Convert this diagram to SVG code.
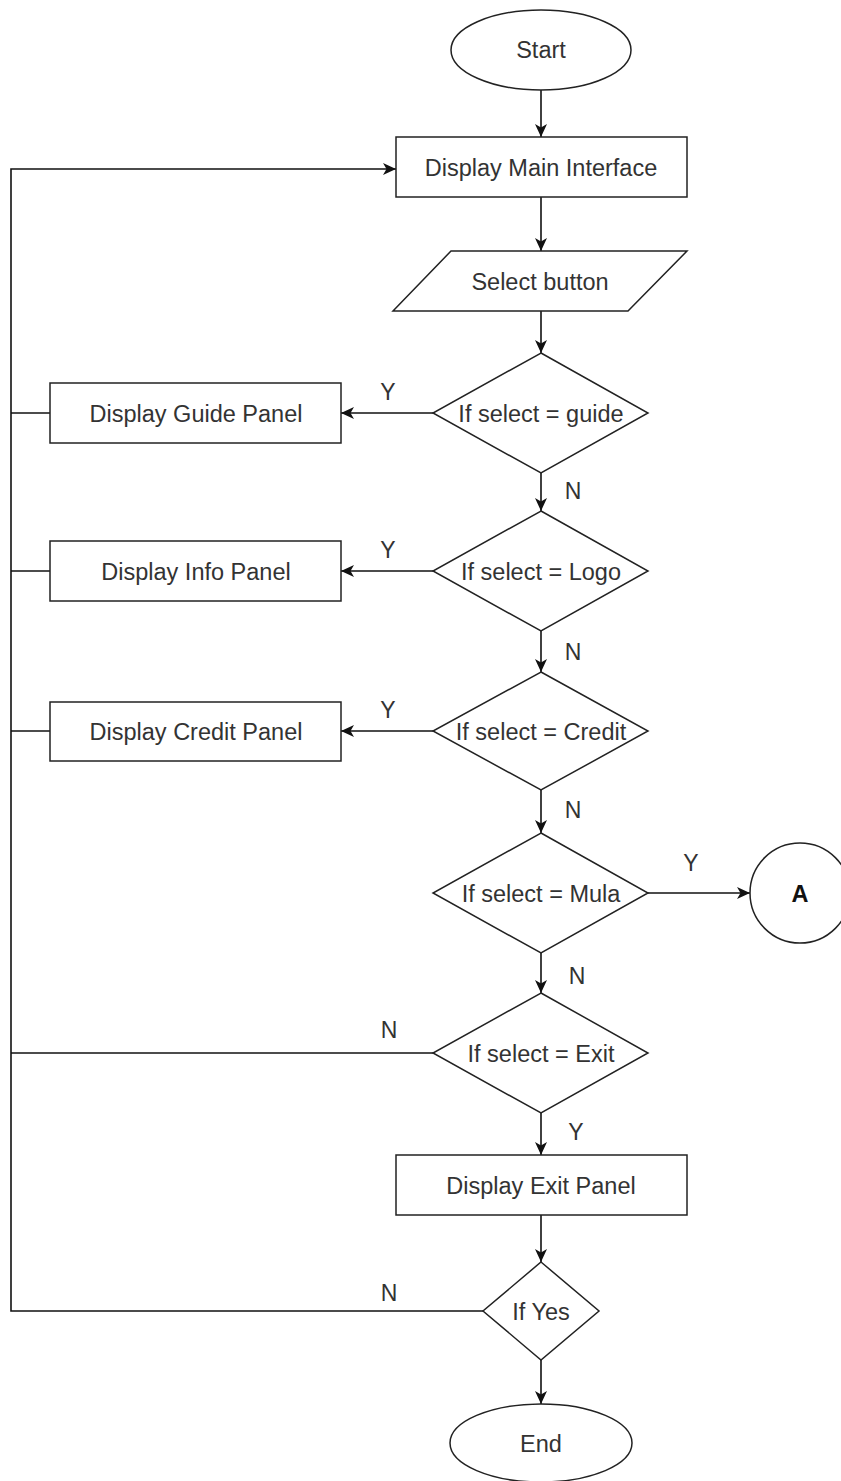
<svg xmlns="http://www.w3.org/2000/svg" width="841" height="1481" viewBox="0 0 841 1481">
  <defs>
    <marker id="arrow" viewBox="0 0 14 14" refX="13" refY="7" markerWidth="14" markerHeight="14" markerUnits="userSpaceOnUse" orient="auto">
      <path d="M0,1 L13,7 L0,13 L3.5,7 z" fill="#111"/>
    </marker>
    <style>
      .shape { fill: #fff; stroke: #222; stroke-width: 1.5; }
      .label { font-family: "Liberation Sans", Arial, sans-serif; font-size: 23.5px; fill: #333; text-anchor: middle; dominant-baseline: central; }
      .edge { fill: none; stroke: #111; stroke-width: 1.6; }
      .edge-arrow { fill: none; stroke: #111; stroke-width: 1.6; marker-end: url(#arrow); }
      .branch { font-family: "Liberation Sans", Arial, sans-serif; font-size: 23px; fill: #333; text-anchor: middle; }
    </style>
  </defs>
  <rect width="841" height="1481" fill="#fff"/>

  <!-- connectors -->
  <g id="connectors">
    <path class="edge-arrow" d="M541,90 V137"/>
    <path class="edge-arrow" d="M541,197 V251"/>
    <path class="edge-arrow" d="M541,311 V353"/>
    <path class="edge-arrow" d="M433,413 H341"/>
    <path class="edge-arrow" d="M541,473 V511"/>
    <path class="edge-arrow" d="M433,571 H341"/>
    <path class="edge-arrow" d="M541,631 V672"/>
    <path class="edge-arrow" d="M433,731 H341"/>
    <path class="edge-arrow" d="M541,790 V833"/>
    <path class="edge-arrow" d="M648,893 H750"/>
    <path class="edge-arrow" d="M541,953 V993"/>
    <path class="edge-arrow" d="M541,1113 V1155"/>
    <path class="edge-arrow" d="M541,1215 V1262"/>
    <path class="edge-arrow" d="M541,1360 V1404"/>
    <!-- loop back to the main interface -->
    <path class="edge-arrow" d="M483,1311 H11 V169 H396"/>
    <path class="edge" d="M50,413 H11"/>
    <path class="edge" d="M50,571 H11"/>
    <path class="edge" d="M50,731 H11"/>
    <path class="edge" d="M433,1053 H11"/>

    <text class="branch" x="388" y="400">Y</text>
    <text class="branch" x="573" y="499">N</text>
    <text class="branch" x="388" y="558">Y</text>
    <text class="branch" x="573" y="660">N</text>
    <text class="branch" x="388" y="718">Y</text>
    <text class="branch" x="573" y="818">N</text>
    <text class="branch" x="691" y="871">Y</text>
    <text class="branch" x="577" y="984">N</text>
    <text class="branch" x="389" y="1038">N</text>
    <text class="branch" x="576" y="1140">Y</text>
    <text class="branch" x="389" y="1301">N</text>
  </g>

  <g id="start">
    <ellipse class="shape" cx="541" cy="50" rx="90" ry="40"/>
    <text class="label" x="541" y="50">Start</text>
  </g>
  <g id="main-interface">
    <rect class="shape" x="396" y="137" width="291" height="60"/>
    <text class="label" x="541" y="168">Display Main Interface</text>
  </g>
  <g id="select-button">
    <polygon class="shape" points="451,251 687,251 628,311 393,311"/>
    <text class="label" x="540" y="282">Select button</text>
  </g>
  <g id="check-guide">
    <polygon class="shape" points="541,353 648,413 541,473 433,413"/>
    <text class="label" x="541" y="414">If select = guide</text>
  </g>
  <g id="guide-panel">
    <rect class="shape" x="50" y="383" width="291" height="60"/>
    <text class="label" x="196" y="414">Display Guide Panel</text>
  </g>
  <g id="check-logo">
    <polygon class="shape" points="541,511 648,571 541,631 433,571"/>
    <text class="label" x="541" y="572">If select = Logo</text>
  </g>
  <g id="info-panel">
    <rect class="shape" x="50" y="541" width="291" height="60"/>
    <text class="label" x="196" y="572">Display Info Panel</text>
  </g>
  <g id="check-credit">
    <polygon class="shape" points="541,672 648,731 541,790 433,731"/>
    <text class="label" x="541" y="732">If select = Credit</text>
  </g>
  <g id="credit-panel">
    <rect class="shape" x="50" y="702" width="291" height="59"/>
    <text class="label" x="196" y="732">Display Credit Panel</text>
  </g>
  <g id="check-mula">
    <polygon class="shape" points="541,833 648,893 541,953 433,893"/>
    <text class="label" x="541" y="894">If select = Mula</text>
  </g>
  <g id="connector-a">
    <circle class="shape" cx="800" cy="893" r="50"/>
    <text class="label" x="800" y="894" style="font-weight:bold; fill:#111">A</text>
  </g>
  <g id="check-exit">
    <polygon class="shape" points="541,993 648,1053 541,1113 433,1053"/>
    <text class="label" x="541" y="1054">If select = Exit</text>
  </g>
  <g id="exit-panel">
    <rect class="shape" x="396" y="1155" width="291" height="60"/>
    <text class="label" x="541" y="1186">Display Exit Panel</text>
  </g>
  <g id="check-yes">
    <polygon class="shape" points="541,1262 599,1311 541,1360 483,1311"/>
    <text class="label" x="541" y="1312">If Yes</text>
  </g>
  <g id="end">
    <ellipse class="shape" cx="541" cy="1443" rx="91" ry="39"/>
    <text class="label" x="541" y="1444">End</text>
  </g>
</svg>
